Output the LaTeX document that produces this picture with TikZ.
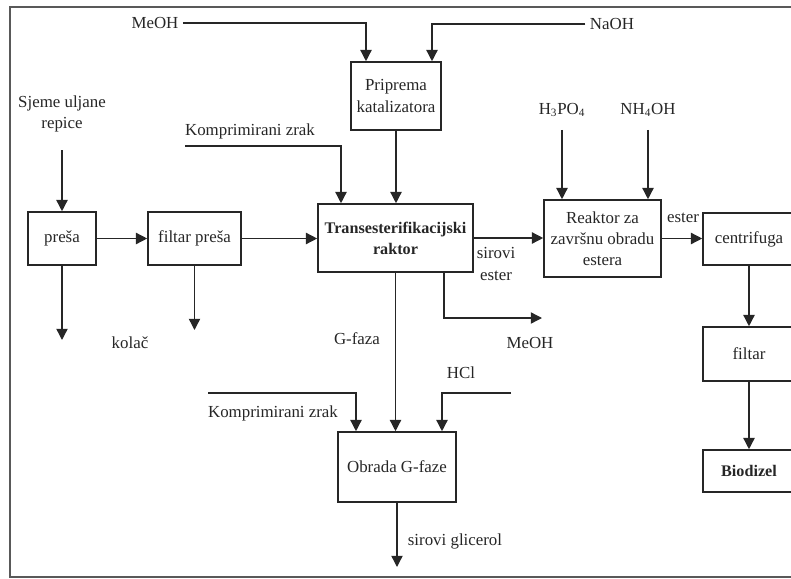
\documentclass[tikz,border=0pt]{standalone}
\usepackage{fontspec}
\setmainfont{Liberation Serif}
\usetikzlibrary{arrows.meta, positioning, calc}

\begin{document}
\begin{tikzpicture}[
    x=0.025cm, y=-0.025cm,
    >={Triangle[length=8pt, width=8pt]},
    unit/.style={draw, black!85, text=black!85, line width=1.1pt, font=\fontsize{12}{15}\selectfont, align=center, inner sep=1pt},
    strong/.style={unit, font=\fontsize{11.5}{15}\selectfont\bfseries},
    flow/.style={->, line width=1pt, black!85},
    lbl/.style={font=\fontsize{12}{15}\selectfont, text=black!85, inner sep=1pt, align=center},
]
\useasboundingbox (0,0) rectangle (791,579);
% ----- frame, cut off on the right
\draw[line width=1.2pt, black!65] (800,7) -- (10,7) -- (10,577) -- (800,577);
% ----- process units
\node[unit, minimum width=2.25cm, minimum height=1.7cm] (priprema) at (396,96) {Priprema\\katalizatora};
\node[unit, minimum width=1.7cm, minimum height=1.325cm] (presa) at (62,238.5) {preša};
\node[unit, minimum width=2.325cm, minimum height=1.325cm] (filtarpresa) at (194.5,238.5) {filtar preša};
\node[strong, minimum width=3.875cm, minimum height=1.7cm] (trans) at (395.5,238) {Transesterifikacijski\\raktor};
\node[unit, minimum width=2.925cm, minimum height=1.925cm] (reaktor) at (602.5,238.5) {Reaktor za\\završnu obradu\\estera};
\node[unit, minimum width=2.3cm, minimum height=1.3cm] (centrifuga) at (749,239) {centrifuga};
\node[unit, minimum width=2.3cm, minimum height=1.35cm] (filtar) at (749,354) {filtar};
\node[strong, minimum width=2.3cm, minimum height=1.05cm] (biodizel) at (749,471) {Biodizel};
\node[unit, minimum width=2.95cm, minimum height=1.75cm] (obrada) at (397,467) {Obrada G-faze};
% ----- stream labels
\node[lbl] (meoh) at (155,23) {MeOH};
\node[lbl] (naoh) at (612,24) {NaOH};
\node[lbl] (sjeme) at (62,114) {Sjeme uljane\\repice};
\node[lbl] (zrak) at (250,131) {Komprimirani zrak};
\node[lbl] (h3po4) at (562,110) {H\textsubscript{3}PO\textsubscript{4}};
\node[lbl] (nh4oh) at (648,110) {NH\textsubscript{4}OH};
\node[lbl] (kolac) at (130,343) {kolač};
\node[lbl] (gfaza) at (357,339) {G-faza};
\node[lbl] (sirester) at (496,264) {sirovi\\ester};
\node[lbl] (meohout) at (530,343) {MeOH};
\node[lbl] (ester) at (683,218) {ester};
\node[lbl] (hcl) at (461,373) {HCl};
\node[lbl] (zrakg) at (273,413) {Komprimirani zrak};
\node[lbl] (glicerol) at (455,541) {sirovi glicerol};
% ----- free ends of the streams
\coordinate (seedin) at (62,150);
\coordinate (cakeout) at (62,340);
\coordinate (filterout) at (194.5,330);
\coordinate (airin) at (185,146);
\coordinate (meohend) at (542,318);
\coordinate (airgin) at (208,393);
\coordinate (hclin) at (511,393);
\coordinate (glyout) at (397,567);
% ----- catalyst preparation
\draw[flow] ([xshift=2pt]meoh.east) -| ($(priprema.north)+(-30,0)$);
\draw[flow] ([xshift=-2pt]naoh.west) -| ($(priprema.north)+(36,0)$);
\draw[flow] (priprema.south) -- (priprema.south |- trans.north);
% ----- seed line
\draw[flow] (presa.north |- seedin) -- (presa.north);
\draw[flow] (presa.south) -- (presa.south |- cakeout);
\draw[flow] (presa.east) -- (filtarpresa.west);
\draw[flow] (filtarpresa.south) -- (filtarpresa.south |- filterout);
\draw[flow] (filtarpresa.east) -- (filtarpresa.east -| trans.west);
\draw[flow] (airin) -| ($(trans.north)+(-54.5,0)$);
% ----- ester line
\draw[flow] (trans.east) -- (trans.east -| reaktor.west);
\draw[flow] ($(trans.south)+(48.5,0)$) |- (meohend);
\draw[flow] ([yshift=-8pt]h3po4.south) -- (h3po4.south |- reaktor.north);
\draw[flow] ([yshift=-8pt]nh4oh.south) -- (nh4oh.south |- reaktor.north);
\draw[flow] (reaktor.east) -- (reaktor.east -| centrifuga.west);
\draw[flow] (centrifuga.south) -- (filtar.north);
\draw[flow] (filtar.south) -- (biodizel.north);
% ----- glycerol line
\draw[flow] (trans.south) -- (trans.south |- obrada.north);
\draw[flow] (airgin) -| ($(obrada.north)+(-41,0)$);
\draw[flow] (hclin) -| ($(obrada.north)+(45,0)$);
\draw[flow] (obrada.south) -- (glyout);
\end{tikzpicture}
\end{document}
